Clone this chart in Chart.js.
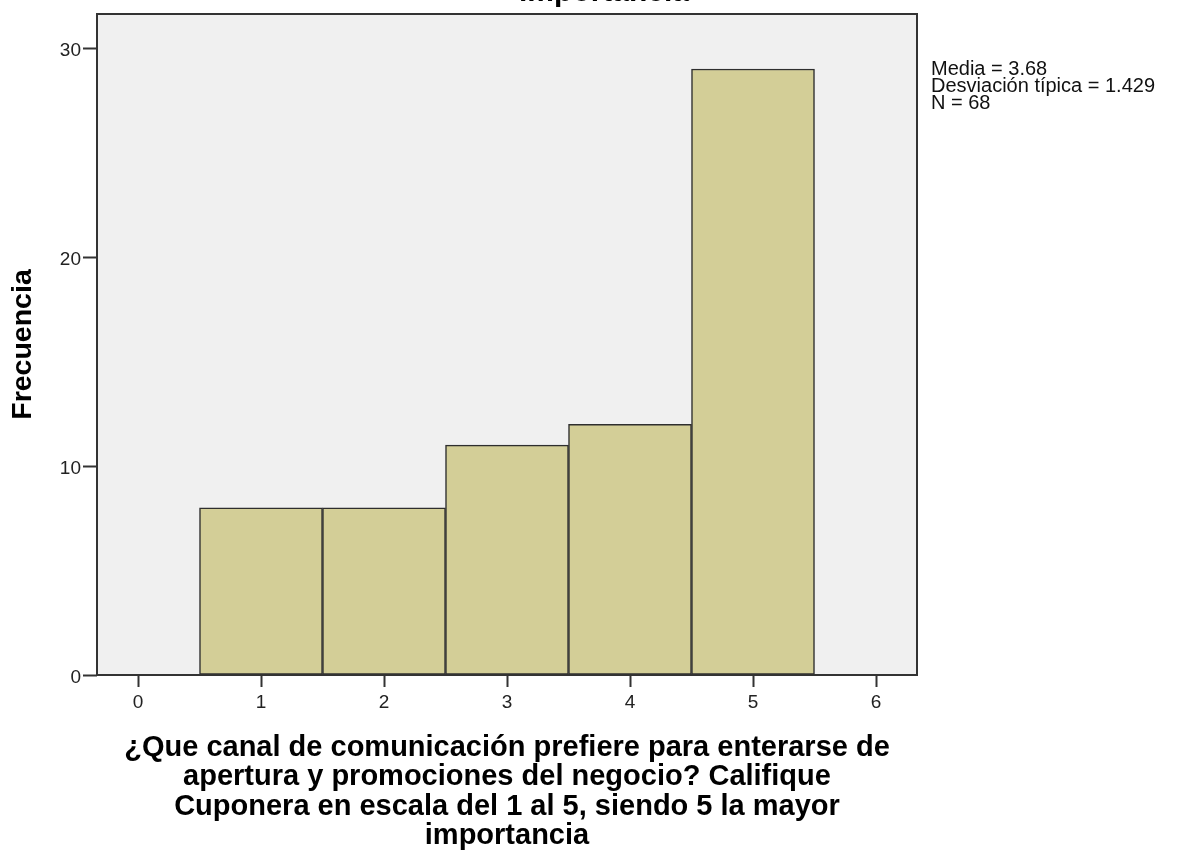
<!DOCTYPE html>
<html>
<head>
<meta charset="utf-8">
<script src="https://cdn.jsdelivr.net/npm/chart.js@4/dist/chart.umd.min.js"></script>
<style>
  html, body { margin: 0; padding: 0; background: #ffffff; }
  #wrap { width: 1182px; height: 852px; position: relative; overflow: hidden; }
  canvas { display: block; }
</style>
</head>
<body>
<div id="wrap"><canvas id="hist" width="1182" height="852"></canvas></div>
<script>
// Histogram data: rating (1..5) and how many respondents chose it
const scoreValues = [1, 2, 3, 4, 5];
const frequencies = [8, 8, 11, 12, 29];

// Axis ticks
const xTickValues = [0, 1, 2, 3, 4, 5, 6];
const yTickValues = [0, 10, 20, 30];

// Text
const topTitleTail = 'importancia';
const xTitleLines = [
  '¿Que canal de comunicación prefiere para enterarse de',
  'apertura y promociones del negocio? Califique',
  'Cuponera en escala del 1 al 5, siendo 5 la mayor',
  'importancia'
];
const yTitleText = 'Frecuencia';
const statsLines = ['Media = 3.68', 'Desviación típica = 1.429', 'N = 68'];

const FONT = '"Liberation Sans", Arial, Helvetica, sans-serif';

// Grey plot background + dark frame around the plot area
const plotFrame = {
  id: 'plotFrame',
  beforeDatasetsDraw(chart) {
    const { ctx, chartArea: a } = chart;
    ctx.save();
    ctx.fillStyle = '#f0f0f0';
    ctx.fillRect(a.left, a.top, a.right - a.left, a.bottom - a.top);
    ctx.restore();
  },
  afterDatasetsDraw(chart) {
    const { ctx, chartArea: a } = chart;
    ctx.save();
    ctx.strokeStyle = '#333333';
    ctx.lineWidth = 2;
    ctx.strokeRect(a.left, a.top, a.right - a.left, a.bottom - a.top);
    ctx.restore();
  }
};

// Title tail above the plot and the summary statistics on the right
const sideText = {
  id: 'sideText',
  afterDraw(chart) {
    const { ctx } = chart;
    ctx.save();
    ctx.fillStyle = '#000000';
    ctx.textAlign = 'center';
    ctx.textBaseline = 'alphabetic';
    ctx.font = 'bold 30px ' + FONT;
    ctx.fillText(topTitleTail, 604, 1);

    ctx.textAlign = 'left';
    ctx.font = '20px ' + FONT;
    ctx.fillStyle = '#111111';
    statsLines.forEach((line, i) => {
      ctx.fillText(line, 931, 75 + i * 17);
    });
    ctx.restore();
  }
};

const ctx = document.getElementById('hist').getContext('2d');
new Chart(ctx, {
  type: 'bar',
  data: {
    datasets: [{
      data: scoreValues.map((v, i) => ({ x: v, y: frequencies[i] })),
      backgroundColor: '#d3ce97',
      borderColor: '#2e2e2e',
      borderWidth: 1.5,
      borderSkipped: false,
      barPercentage: 1,
      categoryPercentage: 1
    }]
  },
  options: {
    responsive: false,
    animation: false,
    devicePixelRatio: 1,
    layout: { padding: { top: 14, right: 265, left: 0, bottom: 0 } },
    plugins: {
      legend: { display: false },
      tooltip: { enabled: false },
      title: { display: false }
    },
    scales: {
      x: {
        type: 'linear',
        offset: false,
        min: -1 / 3,
        max: 6 + 1 / 3,
        afterBuildTicks: s => { s.ticks = xTickValues.map(v => ({ value: v })); },
        afterFit: s => { s.height = 177; },
        grid: {
          offset: false,
          drawOnChartArea: false,
          drawTicks: true,
          tickLength: 12,
          tickWidth: 2,
          tickColor: '#333333'
        },
        border: { display: false },
        ticks: {
          autoSkip: false,
          maxRotation: 0,
          padding: 4,
          color: '#222222',
          font: { family: FONT, size: 19 },
          callback: v => String(v)
        },
        title: {
          display: true,
          text: xTitleLines,
          color: '#000000',
          font: { family: FONT, size: 29, weight: 'bold', lineHeight: 1.017 },
          padding: { top: 0, bottom: 1 }
        }
      },
      y: {
        min: 0,
        max: 31.63,
        afterBuildTicks: s => { s.ticks = yTickValues.map(v => ({ value: v })); },
        afterFit: s => { s.width = 97; },
        grid: {
          drawOnChartArea: false,
          drawTicks: true,
          tickLength: 14,
          tickWidth: 2,
          tickColor: '#333333'
        },
        border: { display: false },
        ticks: {
          padding: 2,
          labelOffset: 3,
          color: '#222222',
          font: { family: FONT, size: 19 },
          callback: v => String(v)
        },
        title: {
          display: true,
          text: yTitleText,
          color: '#000000',
          font: { family: FONT, size: 28.5, weight: 'bold', lineHeight: 1.2 },
          padding: { top: 6, bottom: 0 }
        }
      }
    }
  },
  plugins: [plotFrame, sideText]
});
</script>
</body>
</html>
